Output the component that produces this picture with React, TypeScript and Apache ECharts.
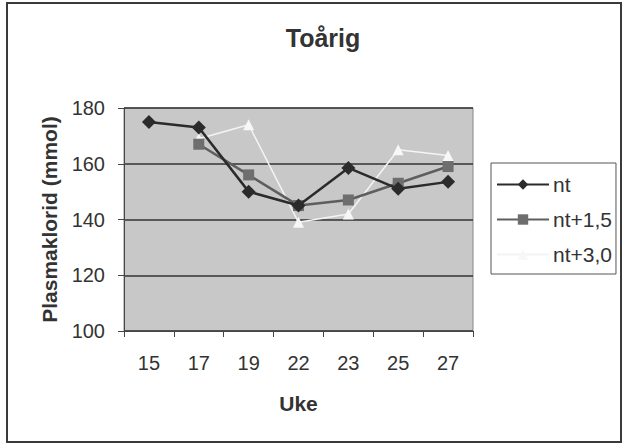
import React, { useEffect, useRef } from "react";
import * as echarts from "echarts";

const weeks = ["15", "17", "19", "22", "23", "25", "27"];
const nt = [175, 173, 150, 145, 158.5, 151, 153.5];
const nt15 = [null, 167, 156, 145, 147, 153, 159];
const nt30 = [null, 169, 174, 139, 142, 165, 163];

const FONT = "Liberation Sans, Arial, sans-serif";

export default function App() {
  const ref = useRef<HTMLDivElement>(null);

  useEffect(() => {
    document.body.style.margin = "0";
    const chart = echarts.init(ref.current!, null, { renderer: "svg" });
    chart.setOption({
      animation: false,
      backgroundColor: "#ffffff",
      title: {
        text: "Toårig",
        left: 318,
        top: 20,
        textAlign: "center",
        textStyle: { fontFamily: FONT, fontSize: 25, fontWeight: "bold", color: "#333" },
      },
      grid: {
        left: 124,
        top: 108,
        width: 349,
        height: 223,
        show: true,
        backgroundColor: "#c8c8c8",
        borderColor: "#888",
        borderWidth: 1,
      },
      legend: {
        orient: "vertical",
        left: 491,
        top: 163,
        itemWidth: 52,
        itemHeight: 13,
        itemGap: 14,
        padding: [11, 4, 9, 5],
        borderColor: "#555",
        borderWidth: 1,
        textStyle: { fontFamily: FONT, fontSize: 21, color: "#333", padding: [0, 0, 0, -1] },
        data: ["nt", "nt+1,5", "nt+3,0"],
      },
      xAxis: {
        type: "category",
        data: weeks,
        boundaryGap: true,
        name: "Uke",
        nameLocation: "middle",
        nameGap: 62,
        nameTextStyle: { fontFamily: FONT, fontSize: 21, fontWeight: "bold", color: "#333" },
        axisLine: { lineStyle: { color: "#444", width: 1 } },
        axisTick: { show: true, length: 6, lineStyle: { color: "#444" } },
        axisLabel: { fontFamily: FONT, fontSize: 20, color: "#333", margin: 22 },
      },
      yAxis: {
        type: "value",
        min: 100,
        max: 180,
        interval: 20,
        name: "Plasmaklorid (mmol)",
        nameLocation: "middle",
        nameGap: 64,
        nameTextStyle: { fontFamily: FONT, fontSize: 21, fontWeight: "bold", color: "#333" },
        axisLine: { show: true, lineStyle: { color: "#444", width: 1 } },
        axisTick: { show: true, length: 6, lineStyle: { color: "#444" } },
        axisLabel: { fontFamily: FONT, fontSize: 20, color: "#333", margin: 19 },
        splitLine: { lineStyle: { color: "#333", width: 1.5 } },
      },
      series: [
        {
          name: "nt",
          type: "line",
          data: nt,
          symbol: "diamond",
          symbolSize: 14,
          itemStyle: { color: "#2b2b2b" },
          lineStyle: { color: "#2b2b2b", width: 2.5 },
          z: 4,
        },
        {
          name: "nt+1,5",
          type: "line",
          data: nt15,
          symbol: "rect",
          symbolSize: 11,
          itemStyle: { color: "#6e6e6e" },
          lineStyle: { color: "#5e5e5e", width: 2.5 },
          z: 3,
        },
        {
          name: "nt+3,0",
          type: "line",
          data: nt30,
          symbol: "triangle",
          symbolSize: 11,
          itemStyle: { color: "#f7f7f7" },
          lineStyle: { color: "#f4f4f4", width: 1.5 },
          z: 2,
        },
      ],
      graphic: [
        {
          type: "rect",
          shape: { x: 7, y: 3, width: 614, height: 439 },
          style: { fill: "none", stroke: "#3a3a3a", lineWidth: 2 },
          silent: true,
        },
      ],
    });
    return () => chart.dispose();
  }, []);

  return <div ref={ref} style={{ width: 625, height: 447 }} />;
}
